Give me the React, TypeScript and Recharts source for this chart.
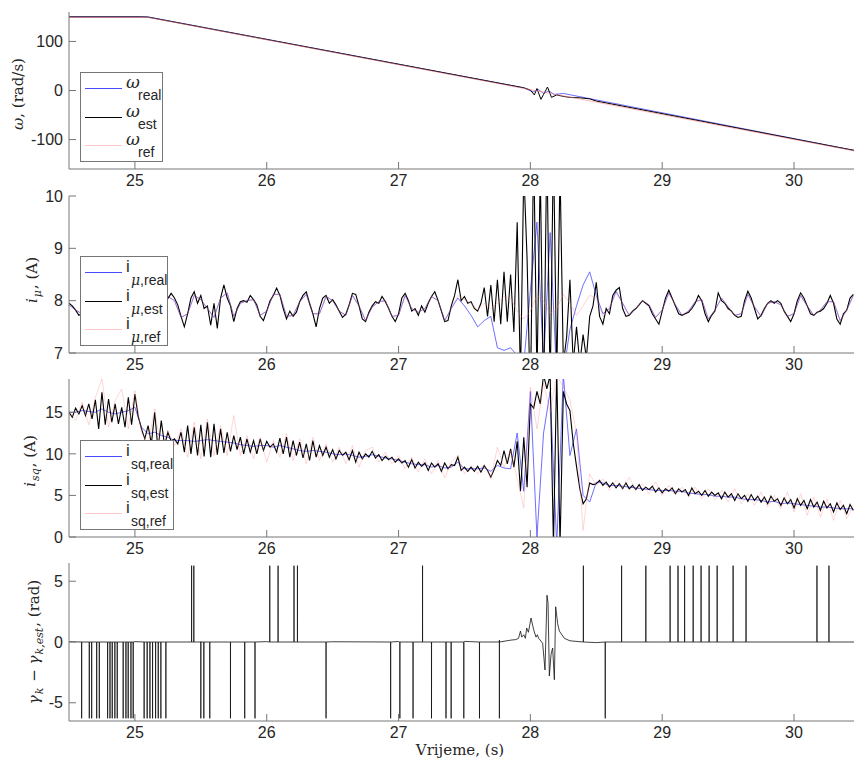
import React from "react";
import { LineChart, Line, XAxis, YAxis } from "recharts";

const W = 855;
const X_DOMAIN: [number, number] = [24.5, 30.455];
const xTicks = [25, 26, 27, 28, 29, 30];

const grid = (t0: number, dt: number, n: number) =>
  Array.from({ length: n }, (_, i) => Math.round((t0 + dt * i) * 1000) / 1000);
const tFine = grid(24.5, 0.025, 239);
const tCoarse = grid(24.5, 0.05, 120);

// ---- omega (rad/s)
const omegaRealT = [24.5, 25.1, 27.95, 28.02, 28.06, 28.1, 28.14, 28.18, 28.25, 30.455];
const omegaReal = [150, 150, 5.5, -3, 2, -6, -1, -8, -6, -122];
const omegaEstT = [24.5, 25.05, 25.1, 27.95, 28.0, 28.03, 28.05, 28.08, 28.1, 28.13, 28.16, 28.2, 28.25, 28.3, 28.38, 28.45, 28.5, 30.455];
const omegaEst = [150, 150, 149.5, 5.5, 1, -9, 4, -18, -8, 7, -14, -9, -12, -14, -15, -17, -21.5, -122];
const omegaRefT = [24.5, 25.1, 30.455];
const omegaRef = [149, 149, -123];

// ---- i_mu (A)
const muEst = [
  7.95, 7.9, 7.82, 7.72,
  7.75, 7.85, 7.95, 8.05, 8.1, 8.0, 7.85, 7.7, 7.65, 7.75, 7.9, 8.05, 8.15, 8.1, 7.95, 7.8, 7.7, 7.75, 7.9, 8.0, 8.1, 8.05, 7.95, 7.9, 8.0,
  8.0,
  8.04, 8.14, 8.05, 7.92, 7.7, 7.5, 7.75, 8.05, 8.17, 7.95,
  8.1, 7.85, 7.9, 7.53, 7.95, 7.47, 8.05, 8.3, 8.05, 7.9,
  7.6, 7.85, 7.98, 8.0, 7.97, 8.1, 8.02, 7.92, 7.7, 7.62,
  7.8, 8.0, 8.1, 8.24, 8.1, 7.85, 7.65, 7.8, 7.7, 7.78,
  7.98, 8.1, 8.17, 7.95, 7.75, 7.5, 7.85, 8.05, 8.1, 7.95,
  8.02, 7.92, 7.8, 7.68, 7.74, 7.92, 8.14, 8.12, 7.9, 7.65,
  7.6, 7.78, 7.9, 7.98, 7.95, 8.08, 7.98, 7.85, 7.7, 7.6,
  7.75, 8.05, 8.14, 8.0, 7.8, 7.85, 7.72, 7.9, 7.78, 7.95,
  8.08, 8.17, 8.0, 7.8, 7.6, 7.62, 7.9, 8.1, 8.4, 8.0,
  8.08, 7.95, 7.98, 7.85, 7.8, 7.95, 8.25, 7.7, 8.3, 7.6,
  8.4, 7.55, 8.55, 7.6, 8.5, 7.4, 9.5, 6.5, 10.5, 8.8,
  6.0, 11, 6.5, 10.5, 6.0, 11, 6.3, 11, 6.5, 10.5,
  6.8, 7.3, 8.4, 6.8, 7.5, 6.8, 7.35, 6.9, 7.7, 7.9,
  8.35, 7.7, 7.55, 7.85, 7.75, 8.1, 8.2, 8.25, 7.85, 7.7,
  7.72, 7.8, 7.85, 7.92, 8.0, 7.95, 7.9, 7.75, 7.65, 7.55,
  7.8, 8.05, 8.2, 8.05, 7.9, 7.75, 7.72, 7.75, 7.78, 7.85,
  7.95, 8.1, 8.0, 7.75, 7.6, 7.72, 7.8, 8.15, 8.0, 7.95,
  7.85, 7.8, 7.72, 7.68, 7.7, 8.0, 8.18, 8.05, 7.85, 7.65,
  7.72, 7.85, 7.95, 8.0, 7.95, 8.0, 7.95, 7.8, 7.7, 7.6,
  7.75, 8.0, 8.15, 8.05, 7.9, 7.75, 7.72, 7.78, 7.8, 7.85,
  7.95, 8.1, 7.95, 7.65, 7.55, 7.75, 7.82, 8.05, 8.12,
];
const muRef = [
  7.92, 7.82, 7.75, 7.92, 8.08, 7.9, 7.7, 7.8, 8.05, 8.05,
  7.8, 7.75, 8.0, 8.05, 8.0, 8.08, 8.0, 7.68, 7.75, 8.1,
  8.02, 7.85, 7.68, 8.05, 8.15, 7.7, 7.95, 8.0, 8.02, 7.72,
  7.8, 8.12, 8.12, 7.7, 7.72, 7.98, 8.12, 7.75, 7.75, 8.08,
  8.0, 7.8, 7.72, 8.1, 7.9, 7.62, 7.88, 7.98, 8.0, 7.7,
  7.72, 8.1, 7.85, 7.78, 7.85, 8.08, 8.0, 7.62, 7.85, 8.1,
  8.02, 7.95, 7.82, 7.95, 7.85, 7.95, 8.08, 8.05, 7.8, 7.65,
  7.8, 8.1, 8.0, 7.75, 7.85, 8.12, 7.95, 7.72, 7.9, 8.1,
  8.05, 7.7, 7.85, 8.15, 7.95, 7.72, 7.85, 8.0, 7.92, 7.68,
  7.82, 8.15, 7.92, 7.72, 7.8, 7.98, 8.02, 7.65, 7.82, 8.05,
  7.88, 7.72, 7.75, 8.12, 7.88, 7.7, 7.95, 7.98, 7.92, 7.7,
  7.75, 8.1, 7.9, 7.72, 7.82, 7.98, 7.98, 7.62, 7.82, 8.1,
];
const muReal = [
  7.92, 7.82, 7.75, 7.92, 8.08, 7.9, 7.7, 7.8, 8.05, 8.05,
  7.8, 7.75, 8.0, 8.05, 8.0, 8.08, 8.0, 7.68, 7.75, 8.1,
  8.02, 7.85, 7.68, 8.05, 8.15, 7.7, 7.95, 8.0, 8.02, 7.72,
  7.8, 8.12, 8.12, 7.7, 7.72, 7.98, 8.12, 7.75, 7.75, 8.08,
  8.0, 7.8, 7.72, 8.1, 7.9, 7.62, 7.88, 7.98, 8.0, 7.7,
  7.72, 8.1, 7.85, 7.78, 7.85, 8.08, 8.0, 7.62, 7.85, 8.05,
  7.9, 7.72, 7.5, 7.62, 7.7, 7.1, 7.05, 7.1, 6.95, 6.8,
  8.2, 9.5, 6.8, 9.3, 6.5, 6.6, 7.45, 7.9, 8.3, 8.55,
  8.1, 7.75, 7.85, 8.18, 7.95, 7.72, 7.85, 8.0, 7.92, 7.68,
  7.82, 8.15, 7.92, 7.72, 7.8, 7.98, 8.02, 7.65, 7.82, 8.05,
  7.88, 7.72, 7.75, 8.12, 7.88, 7.7, 7.95, 7.98, 7.92, 7.7,
  7.75, 8.1, 7.9, 7.72, 7.82, 7.98, 7.98, 7.62, 7.82, 8.1,
];

// ---- i_sq (A)
const sqEst = [
  15.0, 14.4, 15.5, 14.8, 15.8, 14.6, 16.0, 14.2, 16.5, 13.0,
  17.4, 13.5, 16.6, 13.8, 16.0, 13.6, 15.6, 13.2, 16.8, 13.5,
  17.2, 14.5, 13.0, 11.8, 13.4, 11.2, 15.0, 10.5, 14.0, 11.0,
  12.6, 11.5, 11.8, 11.2, 12.6, 10.2, 13.4, 10.0, 13.2, 9.8,
  13.5, 9.7, 13.8, 9.6, 13.6, 9.9, 13.0, 10.1, 12.6, 10.3,
  12.2, 10.5, 12.0, 10.0, 11.8, 10.2, 11.6, 10.0, 11.8, 10.4,
  11.5, 10.8, 11.2, 10.2, 11.9, 10.0, 12.0, 9.6, 11.6, 9.8,
  11.4, 9.5, 11.2, 9.2, 11.6, 9.6, 11.0, 9.8, 10.8, 9.6,
  10.5, 9.4, 10.4, 9.8, 10.2, 9.3, 10.4, 9.0, 10.2, 9.4,
  10.0, 9.6, 10.3, 9.5, 9.9, 9.2, 9.7, 9.3, 9.6, 9.0,
  9.4, 8.9, 9.2, 8.4, 9.3, 8.3, 9.0, 8.5, 8.9, 8.0,
  8.9, 8.4, 8.8, 7.9, 8.9, 8.2, 8.7, 8.6, 9.6, 8.0,
  8.4, 7.9, 8.4, 7.9, 8.5, 7.8, 8.6, 8.0, 7.2, 8.1,
  9.2, 8.6, 10.4, 8.8, 10.6, 8.4, 11.5, 5.5, 12.0, 6.0,
  16.0, 15.5, 17.5, 16.0, 19.5, 17.8, 19.5, -1, 20, -1,
  17.5, 16.0, 15.2, 11.3, 8.5, 5.8, 4.0, 4.6, 6.5, 6.3,
  6.4, 6.8, 6.2, 6.6, 6.0, 6.5, 5.9, 6.4, 5.8, 6.5,
  5.8, 6.2, 5.7, 6.3, 5.6, 6.0, 5.7, 6.1, 5.4, 5.9,
  5.3, 5.8, 5.5, 5.9, 5.2, 5.8, 5.4, 5.7, 5.0, 5.9,
  5.2, 5.5, 5.0, 5.6, 4.9, 5.4, 5.0, 5.3, 4.6, 5.4,
  4.8, 5.2, 4.4, 5.2, 4.6, 5.0, 4.3, 5.1, 4.4, 4.9,
  4.2, 4.8, 4.0, 4.9, 4.3, 4.6, 3.8, 4.7, 4.0, 4.5,
  3.5, 4.6, 3.8, 4.4, 3.4, 4.5, 3.6, 4.2, 3.2, 4.3,
  3.5, 4.0, 3.0, 4.1, 3.3, 3.8, 2.8, 3.9, 3.2,
];
const sqRef = [
  15.2, 14.0, 16.2, 13.5, 16.8, 19.0, 13.2, 16.4, 17.8, 13.0,
  17.6, 12.5, 11.2, 15.4, 10.4, 12.8, 11.0, 13.0, 9.6, 13.8,
  9.4, 14.2, 9.8, 13.4, 9.8, 14.6, 9.8, 12.2, 9.4, 12.0,
  9.0, 11.6, 9.6, 12.4, 9.2, 11.8, 8.8, 12.0, 9.2, 11.2,
  9.0, 10.8, 8.8, 11.0, 8.4, 10.4, 10.8, 9.0, 10.2, 8.8,
  9.8, 8.2, 9.6, 7.8, 9.4, 7.6, 9.2, 7.1, 9.0, 9.8,
  7.6, 8.6, 7.6, 8.8, 7.0, 10.8, 8.4, 10.4, 7.0, 3.5,
  18.0, 13.0, 18.5, 15.0, 19.5, 18.0, 16.5, 12.5, 0.8, 7.6,
  6.2, 7.0, 5.6, 6.8, 5.8, 7.2, 5.6, 6.4, 5.2, 6.6,
  5.0, 6.2, 5.1, 6.0, 4.8, 6.0, 4.6, 5.8, 4.5, 5.6,
  4.2, 5.8, 4.0, 5.2, 3.8, 5.4, 3.6, 5.0, 3.4, 5.4,
  3.0, 5.2, 2.6, 4.8, 2.4, 4.6, 2.0, 4.4, 2.2, 3.8,
];
const sqReal = [
  15.0, 15.0, 15.2, 15.1, 15.0, 15.4, 15.0, 14.8, 15.0, 15.2,
  15.6, 13.2, 12.4, 12.6, 12.2, 12.0, 11.6, 11.6, 11.6, 11.5,
  11.6, 11.7, 11.6, 11.5, 11.4, 11.3, 11.1, 11.0, 10.9, 11.0,
  11.0, 10.8, 11.0, 10.8, 10.6, 10.4, 10.3, 10.4, 10.3, 10.2,
  10.0, 9.9, 10.0, 9.8, 9.6, 9.7, 9.9, 9.7, 9.5, 9.4,
  9.2, 9.0, 8.8, 8.7, 8.7, 8.4, 8.6, 8.3, 8.4, 9.0,
  8.2, 8.2, 8.2, 8.3, 7.9, 8.6, 8.3, 8.2, 12.5, 5.5,
  17.5, 0.0, 12.5, 17.5, -1, 19.5, 9.8, 13.0, 5.0, 4.2,
  6.6, 6.5, 6.2, 6.2, 6.1, 6.0, 5.9, 5.8, 5.7, 5.6,
  5.6, 5.6, 5.5, 5.5, 5.3, 5.2, 5.1, 5.1, 4.9, 4.9,
  4.8, 4.8, 4.6, 4.5, 4.5, 4.4, 4.2, 4.3, 4.0, 4.1,
  4.0, 3.9, 3.8, 3.7, 3.6, 3.6, 3.5, 3.4, 3.4, 3.4,
];

// ---- gamma_k - gamma_k,est (rad)
const gammaT = [
  24.5, 25.0, 25.5, 26.0, 26.5, 27.0, 27.5,
  27.765, 27.85, 27.89, 27.91, 27.925, 27.935, 27.95, 27.962, 27.972, 27.985,
  28.005, 28.025, 28.043, 28.053, 28.063, 28.093, 28.111, 28.126, 28.134, 28.144,
  28.157, 28.169, 28.182, 28.192, 28.207, 28.22, 28.258, 28.3, 28.4, 28.5,
  29.0, 29.5, 30.0, 30.455,
];
const gammaV = [
  0.02, 0.03, 0.02, 0.03, 0.02, 0.04, 0.05,
  0.16, 0.15, 0.2, 0.3, 0.9, 0.4, 0.6, 0.3, 1.15, 0.8,
  1.97, 1.0, 0.4, 0.6, 0.3, -0.1, -2.3, 3.85, 3.2, -2.8,
  -1.0, -0.5, -3.1, 2.9, 1.5, 0.9, 0.3, 0.1, 0.0, -0.05,
  0, 0, 0, 0,
];
const wrapDownT = [
  24.596, 24.654, 24.672, 24.71, 24.73, 24.793, 24.811, 24.828, 24.848, 24.866,
  24.911, 24.932, 24.949, 24.97, 24.987, 25.07, 25.093, 25.114, 25.134, 25.157,
  25.177, 25.197, 25.235, 25.5, 25.523, 25.568, 25.725, 25.833, 25.911, 26.45,
  26.94, 27.01, 27.11, 27.25, 27.36, 27.399, 27.495, 27.614, 27.765, 28.568,
];
const wrapUpT = [
  25.43, 25.447, 26.023, 26.086, 26.207, 26.233, 27.182, 28.402, 28.692, 28.876,
  29.06, 29.12, 29.17, 29.235, 29.295, 29.356, 29.417, 29.538, 29.636, 30.174, 30.265,
];
const WRAP = 6.28;

type Pt = { t: number; v: number };
const pts = (ts: number[], vs: number[]): Pt[] => ts.map((t, i) => ({ t, v: vs[i] }));

const gammaData = (): Pt[] => {
  const rows = pts(gammaT, gammaV);
  wrapDownT.forEach((t) => rows.push({ t: t - 0.0004, v: 0 }, { t, v: -WRAP }, { t: t + 0.0004, v: 0 }));
  wrapUpT.forEach((t) => rows.push({ t: t - 0.0004, v: 0 }, { t, v: WRAP }, { t: t + 0.0004, v: 0 }));
  return rows.sort((a, b) => a.t - b.t);
};

const AXIS = "#767676";
const TXT = "#262626";
const BLUE = "#4a4aff";
const PINK = "#ff7f7f";
const tickFont = { fill: TXT, fontSize: 16, fontFamily: "'Liberation Sans', Arial, sans-serif" };
const SERIF = "'DejaVu Serif', serif";
const SANS = "'Liberation Sans', Arial, sans-serif";

type Series = { name: string; data: Pt[]; color: string; width: number; opacity?: number };

function Panel({ top, plotH, yDomain, yTicks, series }: {
  top: number; plotH: number; yDomain: [number, number]; yTicks: number[]; series: Series[];
}) {
  return (
    <div style={{ position: "absolute", left: 0, top: top - 10 }}>
      <LineChart width={W} height={plotH + 40} margin={{ top: 10, right: 1, bottom: 0, left: 0 }}>
        <XAxis xAxisId="b" type="number" dataKey="t" domain={X_DOMAIN} allowDataOverflow ticks={xTicks}
          interval={0} height={30} stroke={AXIS} tickSize={-7} tickMargin={13} tick={tickFont} />
        <XAxis xAxisId="t" orientation="top" type="number" dataKey="t" domain={X_DOMAIN} allowDataOverflow
          ticks={xTicks} interval={0} height={0} stroke={AXIS} tickSize={-7} tick={false} />
        <YAxis yAxisId="l" type="number" domain={yDomain} allowDataOverflow ticks={yTicks} interval={0}
          width={69} stroke={AXIS} tickSize={-7} tickMargin={13} tick={tickFont} />
        <YAxis yAxisId="r" orientation="right" type="number" domain={yDomain} allowDataOverflow ticks={yTicks}
          interval={0} width={0} stroke={AXIS} tickSize={-7} tick={false} />
        {series.map((s) => (
          <Line key={s.name} xAxisId="b" yAxisId="l" data={s.data} dataKey="v" type="linear" dot={false}
            activeDot={false} stroke={s.color} strokeWidth={s.width} strokeOpacity={s.opacity ?? 1}
            isAnimationActive={false} />
        ))}
      </LineChart>
    </div>
  );
}

type Row = { color: string; main: React.ReactNode; sub: React.ReactNode };

function LegendBox({ left, top, width, rows, mainSize, mainW, subTop }: {
  left: number; top: number; width: number; rows: Row[]; mainSize: number; mainW: number; subTop: number;
}) {
  return (
    <div style={{ position: "absolute", left, top, width, height: 90, background: "#fff",
      border: `1px solid ${AXIS}`, boxSizing: "border-box" }}>
      {rows.map((r, i) => {
        const y = 15 + i * 28.5;
        return (
          <React.Fragment key={i}>
            <div style={{ position: "absolute", left: 4, top: y, width: 37, borderTop: `1px solid ${r.color}` }} />
            <div style={{ position: "absolute", left: 45, top: y - mainSize + 3, fontSize: mainSize, lineHeight: 1,
              color: TXT }}>{r.main}</div>
            <div style={{ position: "absolute", left: 45 + mainW, top: y + subTop, fontSize: 14, lineHeight: 1,
              color: TXT, fontFamily: SANS, whiteSpace: "nowrap" }}>{r.sub}</div>
          </React.Fragment>
        );
      })}
    </div>
  );
}

function YLabel({ cx, cy, children }: { cx: number; cy: number; children: React.ReactNode }) {
  return (
    <div style={{ position: "absolute", left: cx, top: cy, transform: "translate(-50%, -50%) rotate(-90deg)",
      fontFamily: SERIF, fontSize: 15, color: TXT, whiteSpace: "nowrap" }}>{children}</div>
  );
}

const mi = (s: string) => <span style={{ fontStyle: "italic", fontFamily: SERIF }}>{s}</span>;
const sub = (s: React.ReactNode) => <sub style={{ fontSize: 11, marginLeft: 1, marginRight: 1 }}>{s}</sub>;

export default function App() {
  const omegaSeries: Series[] = [
    { name: "real", data: pts(omegaRealT, omegaReal), color: BLUE, width: 0.8 },
    { name: "est", data: pts(omegaEstT, omegaEst), color: "#000", width: 1 },
    { name: "ref", data: pts(omegaRefT, omegaRef), color: PINK, width: 0.8, opacity: 0.7 },
  ];
  const muSeries: Series[] = [
    { name: "real", data: pts(tCoarse, muReal), color: BLUE, width: 0.8 },
    { name: "est", data: pts(tFine, muEst), color: "#000", width: 1.1 },
    { name: "ref", data: pts(tCoarse, muRef), color: PINK, width: 0.7, opacity: 0.5 },
  ];
  const sqSeries: Series[] = [
    { name: "real", data: pts(tCoarse, sqReal), color: BLUE, width: 0.8 },
    { name: "est", data: pts(tFine, sqEst), color: "#000", width: 1.1 },
    { name: "ref", data: pts(tCoarse, sqRef), color: PINK, width: 0.7, opacity: 0.45 },
  ];
  const gammaSeries: Series[] = [{ name: "err", data: gammaData(), color: "#111", width: 0.8 }];

  const omegaMain = <span style={{ fontFamily: SERIF, fontStyle: "italic" }}>ω</span>;
  const iMain = <span style={{ fontFamily: SANS }}>i</span>;
  const mu = <span style={{ fontFamily: SERIF, fontStyle: "italic" }}>μ</span>;

  return (
    <div style={{ position: "absolute", left: 0, top: 0, width: W, height: 767, background: "#fff" }}>
      <Panel top={12} plotH={157} yDomain={[-160, 160]} yTicks={[-100, 0, 100]} series={omegaSeries} />
      <Panel top={196} plotH={157} yDomain={[7, 10]} yTicks={[7, 8, 9, 10]} series={muSeries} />
      <Panel top={379} plotH={158} yDomain={[0, 19]} yTicks={[0, 5, 10, 15]} series={sqSeries} />
      <Panel top={563} plotH={158} yDomain={[-6.5, 6.5]} yTicks={[-5, 0, 5]} series={gammaSeries} />

      <LegendBox left={80} top={72} width={83} mainSize={17} mainW={12} subTop={0} rows={[
        { color: BLUE, main: omegaMain, sub: "real" },
        { color: "#000", main: omegaMain, sub: "est" },
        { color: "#ffc4c4", main: omegaMain, sub: "ref" },
      ]} />
      <LegendBox left={80} top={256} width={88} mainSize={17} mainW={5} subTop={1} rows={[
        { color: BLUE, main: iMain, sub: <>{mu},real</> },
        { color: "#000", main: iMain, sub: <>{mu},est</> },
        { color: "#ffc4c4", main: iMain, sub: <>{mu},ref</> },
      ]} />
      <LegendBox left={80} top={440} width={94} mainSize={17} mainW={5} subTop={1} rows={[
        { color: BLUE, main: iMain, sub: "sq,real" },
        { color: "#000", main: iMain, sub: "sq,est" },
        { color: "#ffc4c4", main: iMain, sub: "sq,ref" },
      ]} />

      <YLabel cx={18} cy={94}>{mi("ω")}, (rad/s)</YLabel>
      <YLabel cx={33} cy={280}>{mi("i")}{sub(mi("μ"))}, (A)</YLabel>
      <YLabel cx={31} cy={461}>{mi("i")}{sub(mi("sq"))}, (A)</YLabel>
      <YLabel cx={35} cy={642}>{mi("γ")}{sub(mi("k"))} − {mi("γ")}{sub(mi("k,est"))}, (rad)</YLabel>

      <div style={{ position: "absolute", left: 460, top: 750, transform: "translate(-50%, -50%)",
        fontFamily: SERIF, fontSize: 15, color: TXT, whiteSpace: "nowrap" }}>Vrijeme, (s)</div>
    </div>
  );
}
